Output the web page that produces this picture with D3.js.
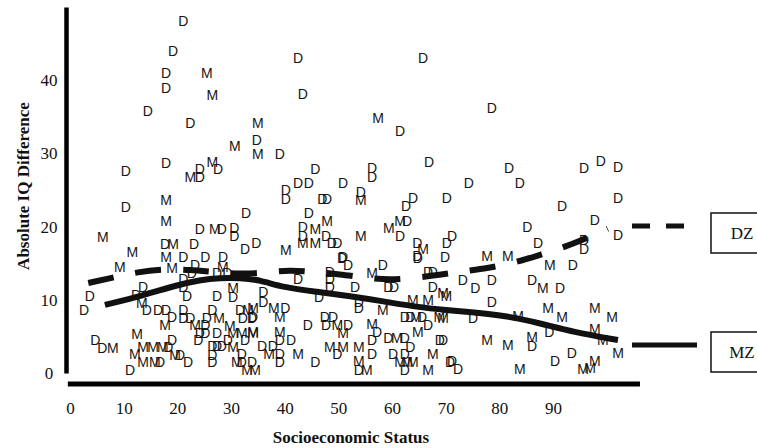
<!DOCTYPE html>
<html><head><meta charset="utf-8">
<script src="https://cdn.jsdelivr.net/npm/d3@7"></script>
<style>body{margin:0;background:#fff} svg{display:block}</style>
</head><body><svg id="c" width="757" height="448"></svg>
<script>
// DZ twin pairs ("D")
const dzSES = [21.1,19.2,17.9,17.9,14.5,22.4,42.5,65.8,43.4,61.5,78.6,34.8,17.9,10.4,24.2,24.2,27.6,10.4,32.8,24.2,28.3,30.6,30.6,17.7,23.1,32.6,34.7,21.1,25.2,28.5,
39.1,66.9,45.7,56.3,56.3,42.5,44.5,50.9,40.2,40.2,47.0,47.9,54.2,63.9,62.6,70.2,44.5,43.4,43.4,47.7,48.8,49.8,62.8,61.5,64.7,70.2,50.9,64.7,
81.8,74.3,83.8,95.8,98.9,102.1,102.1,91.7,97.8,85.2,102.1,87.2,95.8,95.8,71.2,69.9,
23.3,22.7,27.4,29.3,21.1,13.6,21.1,3.7,12.3,21.8,27.4,30.4,2.6,14.3,16.4,17.9,19.0,21.1,21.1,22.4,26.5,25.5,31.7,32.2,33.9,25.2,24.2,25.2,27.4,19.0,23.9,29.4,32.6,4.7,6.0,18.3,20.5,22.0,16.8,11.2,26.5,27.4,28.3,26.5,26.5,32.0,32.0,33.9,
50.7,51.8,58.3,64.8,66.7,67.6,42.5,48.4,48.4,48.4,53.1,59.3,60.4,67.6,36.0,36.0,46.4,53.8,53.8,40.1,34.1,62.4,63.4,65.6,47.5,49.0,44.3,47.7,51.8,57.2,66.7,68.9,39.1,41.2,35.8,37.8,39.1,39.1,45.7,49.8,56.3,56.3,53.8,59.3,62.4,63.4,60.2,62.4,62.4,70.8,
93.7,73.2,75.5,78.6,86.1,91.3,78.6,75.1,89.3,86.1,93.5,90.4,71.2,72.3,69.5];
const dzIQ = [48.1,44.0,41.0,39.0,35.8,34.1,43.1,43.1,38.1,33.0,36.2,31.8,28.7,27.6,27.9,26.8,27.9,22.7,21.8,19.7,19.7,19.8,18.7,17.6,17.6,16.9,17.7,15.8,15.8,15.8,
29.9,28.8,27.9,28.0,26.8,25.9,25.9,25.9,25.0,23.8,23.8,23.8,24.8,23.9,22.8,23.9,21.8,19.9,18.7,18.7,17.7,17.7,20.8,18.7,17.7,17.7,15.8,16.0,
28.0,25.9,25.9,28.0,28.9,28.1,23.9,22.8,20.9,19.9,18.8,17.7,18.2,16.9,18.7,15.8,
14.7,13.7,13.7,13.7,12.8,11.7,11.7,10.5,10.6,10.5,10.5,10.4,8.6,8.6,8.6,8.6,7.6,8.6,7.5,7.5,8.6,7.5,8.6,7.5,7.5,6.6,5.5,5.5,5.5,4.5,4.5,4.5,4.5,4.5,3.4,3.5,2.5,1.5,1.5,0.4,3.7,3.7,3.7,2.5,1.5,1.5,2.6,1.5,
15.7,14.7,14.7,15.7,13.8,13.8,12.8,13.8,12.8,11.7,11.7,11.7,11.7,11.7,11.1,9.7,10.4,9.7,8.9,8.9,7.6,7.6,7.6,7.6,7.6,7.6,6.6,6.6,6.6,5.6,6.6,4.5,4.5,4.5,3.7,3.7,2.6,1.5,1.5,2.6,4.5,2.6,0.4,4.8,4.8,3.5,2.6,2.6,0.4,1.5,
14.7,12.7,11.6,12.7,12.7,11.6,9.7,7.5,5.6,3.7,2.7,1.6,1.6,0.5,4.5];
// MZ twin pairs ("M")
const mzSES = [25.5,26.5,35.0,57.4,30.7,35.0,26.5,22.4,17.9,17.9,6.1,27.0,19.2,11.6,17.9,54.2,47.9,45.7,43.4,45.7,54.2,59.4,61.5,65.8,40.2,77.7,81.6,
9.3,19.0,28.5,30.4,13.4,33.2,27.8,17.7,23.3,29.8,30.4,32.0,34.1,12.5,8.0,13.6,15.5,17.3,19.6,12.1,13.6,15.8,30.4,31.1,33.0,34.5,
56.3,69.5,63.9,66.7,34.1,38.0,39.1,58.3,64.5,68.8,49.8,50.9,56.3,64.8,34.1,39.1,37.1,42.5,48.4,50.9,53.8,53.8,55.3,60.9,61.5,62.8,63.9,67.6,66.7,
89.4,88.1,70.1,89.1,91.7,97.8,101.0,83.5,97.8,99.3,77.7,81.6,86.1,102.1,83.8,95.6,96.9,97.8,69.5];
const mzIQ = [41.0,38.0,34.1,34.9,31.0,29.9,28.8,26.8,23.6,20.8,18.6,19.7,17.6,16.5,15.8,23.6,20.8,19.7,17.7,17.7,18.7,19.8,20.8,16.9,16.8,16.0,16.0,
14.5,14.3,14.5,11.6,9.6,8.6,7.5,6.6,6.6,6.4,5.5,5.5,5.5,5.3,3.4,3.5,3.5,3.5,2.5,2.6,1.5,1.5,3.5,1.5,0.4,0.4,
13.7,10.9,10.0,10.0,8.9,8.9,7.6,8.6,7.6,7.6,6.6,5.5,6.7,5.6,5.6,5.6,2.6,2.6,3.5,3.5,3.5,1.6,0.4,4.8,1.5,1.5,1.5,2.6,0.4,
14.7,11.6,10.5,8.9,7.6,8.9,7.6,7.8,6.0,4.5,4.5,3.8,4.9,2.7,0.5,0.5,0.7,1.6,7.5];
// smoothed trend lines
const dzFitSES = [3.4,8.4,12.5,17.7,22.4,26.6,31.7,36.3,41.0,45.3,50.3,55.0,59.6,64.3,68.9,73.2,77.7,82.4,87.0,91.7,95.6,100.2];
const dzFitIQ  = [12.3,13.1,13.8,14.2,14.1,13.8,13.5,13.7,14.1,13.8,13.5,13.0,12.7,13.0,13.4,13.9,14.3,15.0,16.0,17.1,18.2,19.7];
const mzFitSES = [6.5,13.6,19.9,24.2,27.9,31.7,35.4,39.7,46.0,52.2,58.3,64.7,70.2,75.1,81.4,87.6,93.7,102.1];
const mzFitIQ  = [9.3,10.6,12.0,12.7,13.0,13.0,12.7,11.7,11.1,10.5,9.8,9.0,8.6,8.3,7.8,6.8,5.6,4.5];
const xTickValues = [0,10,20,30,40,50,60,70,80,90];
const yTickValues = [0,10,20,30,40];
const xTitle = "Socioeconomic Status";
const yTitle = "Absolute IQ Difference";
const legendLabels = ["DZ","MZ"];

const svg = d3.select("#c");
const serif = "'Liberation Serif','DejaVu Serif',serif";
const x = d3.scaleLinear().domain([0,100]).range([70,606.7]);
const y = d3.scaleLinear().domain([0,50]).range([373,7]);

// points
const pts = svg.append("g").attr("font-family","'Liberation Sans',Arial,sans-serif")
  .attr("font-size",14).attr("fill","#151515").attr("text-anchor","middle");
pts.selectAll("text.d").data(d3.zip(dzSES,dzIQ)).join("text").attr("class","d")
  .attr("x",d=>x(d[0])).attr("y",d=>y(d[1])).attr("dy","0.36em").text("D");
pts.selectAll("text.m").data(d3.zip(mzSES,mzIQ)).join("text").attr("class","m")
  .attr("x",d=>x(d[0])).attr("y",d=>y(d[1])).attr("dy","0.36em").text("M");

// trend lines
const line = d3.line().x(d=>x(d[0])).y(d=>y(d[1])).curve(d3.curveBasis);
svg.append("path").datum(d3.zip(dzFitSES,dzFitIQ)).attr("d",line)
  .attr("fill","none").attr("stroke","#111").attr("stroke-width",6).attr("stroke-dasharray","26,22");
svg.append("path").datum(d3.zip(mzFitSES,mzFitIQ)).attr("d",line)
  .attr("fill","none").attr("stroke","#111").attr("stroke-width",6);

// y axis
const ya = svg.append("g").attr("transform","translate(66,0)")
  .call(d3.axisLeft(y).tickValues(yTickValues).tickSize(0).tickPadding(17));
ya.select(".domain").attr("stroke","#000").attr("stroke-width",4.5);
ya.selectAll("text").attr("font-family",serif).attr("font-size",17).attr("fill","#111")
  .attr("text-anchor","middle").attr("x",-17);

// x axis
const xa = svg.append("g").attr("transform","translate(0,384)")
  .call(d3.axisBottom(x).tickValues(xTickValues).tickSize(0));
xa.select(".domain").remove();
xa.append("line").attr("x1",x(-0.4)).attr("x2",x(106.2)).attr("stroke","#000").attr("stroke-width",5);
xa.selectAll("text").attr("font-family",serif).attr("font-size",17).attr("fill","#111")
  .attr("y",30).attr("dy",0);

svg.append("text").attr("x",351).attr("y",443).attr("text-anchor","middle")
  .attr("font-family",serif).attr("font-size",17).attr("font-weight","bold").attr("fill","#111").text(xTitle);
svg.append("text").attr("transform","translate(29,186) rotate(-90)").attr("text-anchor","middle")
  .attr("font-family",serif).attr("font-size",17).attr("font-weight","bold").attr("fill","#111").text(yTitle);

// legend
const lg = svg.append("g");
lg.append("line").attr("x1",632).attr("x2",686).attr("y1",226).attr("y2",226)
  .attr("stroke","#111").attr("stroke-width",5).attr("stroke-dasharray","18,16");
lg.append("line").attr("x1",632).attr("x2",697).attr("y1",345).attr("y2",345)
  .attr("stroke","#111").attr("stroke-width",5);
[[213,legendLabels[0]],[332,legendLabels[1]]].forEach(([top,lab])=>{
  lg.append("rect").attr("x",711).attr("y",top).attr("width",60).attr("height",40)
    .attr("fill","#fff").attr("stroke","#111").attr("stroke-width",1.5);
  lg.append("text").attr("x",742).attr("y",top+20).attr("dy","0.35em").attr("text-anchor","middle")
    .attr("font-family",serif).attr("font-size",17).attr("fill","#111").text(lab);
});
</script></body></html>
